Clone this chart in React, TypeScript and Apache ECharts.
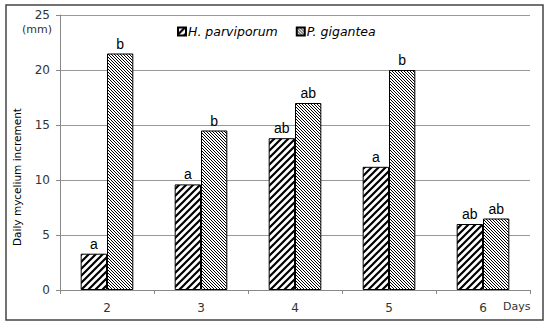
import React, { useEffect, useRef } from "react";
import * as echarts from "echarts";

const categories = ["2", "3", "4", "5", "6"];
const hParviporum = [3.3, 9.6, 13.8, 11.2, 6.0];
const pGigantea = [21.5, 14.5, 17.0, 20.0, 6.5];
const hLetters = ["a", "a", "ab", "a", "ab"];
const pLetters = ["b", "b", "ab", "b", "ab"];

function makeStripe(size: number, width: number, dir: "/" | "\\"): string {
  const c = document.createElement("canvas");
  c.width = size;
  c.height = size;
  const ctx = c.getContext("2d")!;
  ctx.fillStyle = "#fff";
  ctx.fillRect(0, 0, size, size);
  ctx.strokeStyle = "#000";
  ctx.lineWidth = width;
  ctx.beginPath();
  if (dir === "/") {
    ctx.moveTo(-1, size + 1);
    ctx.lineTo(size + 1, -1);
    ctx.moveTo(-1, 1);
    ctx.lineTo(1, -1);
    ctx.moveTo(size - 1, size + 1);
    ctx.lineTo(size + 1, size - 1);
  } else {
    ctx.moveTo(-1, -1);
    ctx.lineTo(size + 1, size + 1);
    ctx.moveTo(size - 1, -1);
    ctx.lineTo(size + 1, 1);
    ctx.moveTo(-1, size - 1);
    ctx.lineTo(1, size + 1);
  }
  ctx.stroke();
  return c.toDataURL();
}

export default function App() {
  const ref = useRef<HTMLDivElement>(null);
  useEffect(() => {
    if (!ref.current) return;
    const chart = echarts.init(ref.current, null, { renderer: "svg" });
    const hPat = { image: makeStripe(7, 2.2, "/"), repeat: "repeat" };
    const pPat = { image: makeStripe(3, 1, "\\"), repeat: "repeat" };
    const axisFont = "DejaVu Sans";
    const labelCommon = {
      show: true,
      position: "top",
      distance: 3,
      fontFamily: "Liberation Sans",
      fontSize: 14,
      color: "#000",
    };
    chart.setOption({
      animation: false,
      backgroundColor: "#fff",
      grid: { left: 60, right: 20, top: 15, bottom: 41 },
      legend: {
        top: 20,
        left: 172,
        itemWidth: 8,
        itemHeight: 8,
        itemGap: 18,
        icon: "rect",
        textStyle: { fontFamily: axisFont, fontStyle: "italic", fontSize: 12.5, color: "#000", padding: [0, 0, 0, -3] },
        data: ["H. parviporum", "P. gigantea"],
      },
      xAxis: {
        type: "category",
        data: categories,
        axisLine: { lineStyle: { color: "#888" } },
        axisTick: { show: true, length: 4, lineStyle: { color: "#888" } },
        axisLabel: { fontFamily: axisFont, fontSize: 12, color: "#333", margin: 12 },
      },
      yAxis: {
        type: "value",
        min: 0,
        max: 25,
        interval: 5,
        axisLine: { show: true, lineStyle: { color: "#888" } },
        axisTick: { show: true, length: 4, lineStyle: { color: "#888" } },
        axisLabel: { fontFamily: axisFont, fontSize: 12, color: "#333", margin: 10 },
        splitLine: { lineStyle: { color: "#999" } },
      },
      series: [
        {
          name: "H. parviporum",
          type: "bar",
          data: hParviporum,
          barWidth: "28%",
          barGap: "0%",
          itemStyle: { color: hPat, borderColor: "#000", borderWidth: 1 },
          label: { ...labelCommon, formatter: (p: any) => hLetters[p.dataIndex] },
        },
        {
          name: "P. gigantea",
          type: "bar",
          data: pGigantea,
          barWidth: "28%",
          barGap: "0%",
          itemStyle: { color: pPat, borderColor: "#000", borderWidth: 1 },
          label: { ...labelCommon, formatter: (p: any) => pLetters[p.dataIndex] },
        },
      ],
      graphic: [
        {
          type: "rect",
          shape: { x: 6, y: 5, width: 537, height: 315 },
          style: { fill: "none", stroke: "#444", lineWidth: 1.5 },
          silent: true,
        },
        {
          type: "text",
          x: 17,
          y: 177,
          rotation: Math.PI / 2,
          style: {
            text: "Daily mycelium increment",
            fontFamily: axisFont,
            fontSize: 10.5,
            fill: "#000",
            align: "center",
            verticalAlign: "middle",
          },
        },
        {
          type: "text",
          x: 22,
          y: 24,
          style: { text: "(mm)", fontFamily: axisFont, fontSize: 11, fill: "#333" },
        },
        {
          type: "text",
          x: 503,
          y: 301,
          style: { text: "Days", fontFamily: axisFont, fontSize: 11, fill: "#333" },
        },
      ],
    });
    return () => chart.dispose();
  }, []);
  return <div ref={ref} style={{ position: "fixed", left: 0, top: 0, width: 550, height: 331 }} />;
}
